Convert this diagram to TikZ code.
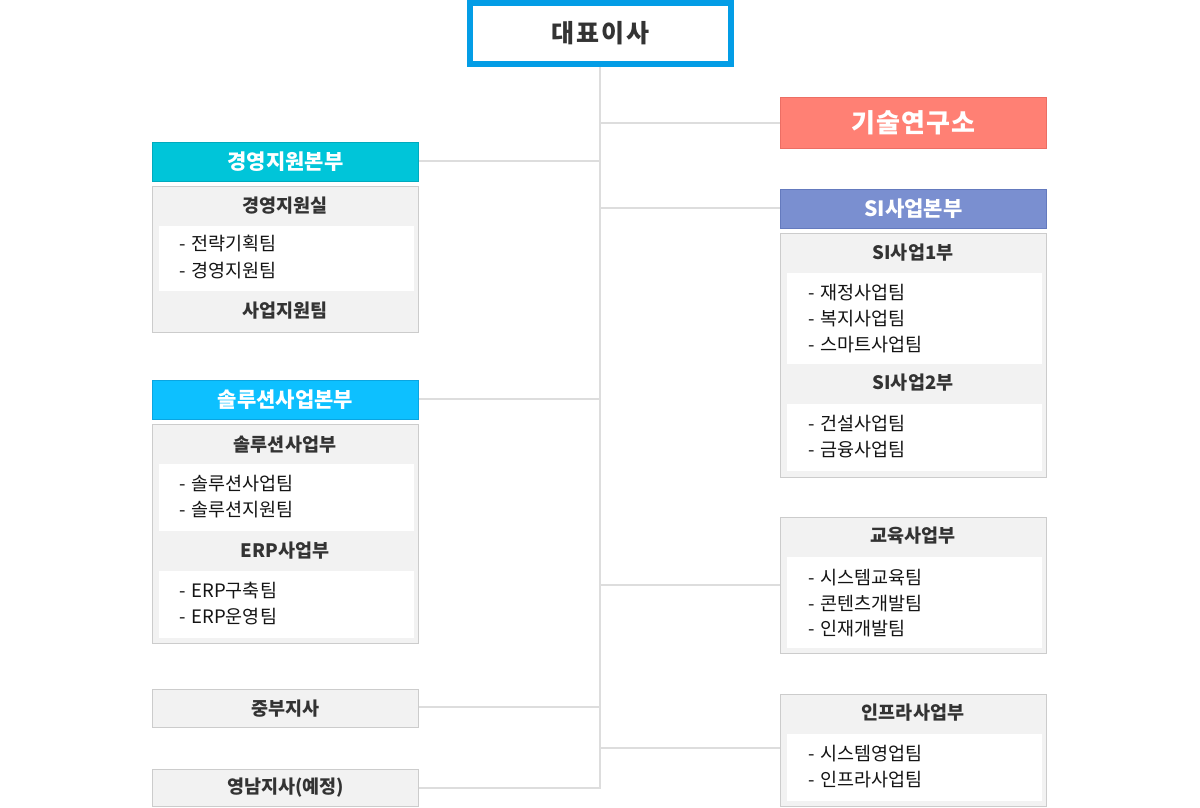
\documentclass[tikz,border=0pt]{standalone}
\usepackage{fontspec}
\setmainfont{Noto Sans CJK KR}
\definecolor{ceoblue}{RGB}{3,157,230}
\definecolor{labfill}{RGB}{255,128,116}
\definecolor{labline}{RGB}{236,110,100}
\definecolor{mgmtfill}{RGB}{0,197,217}
\definecolor{mgmtline}{RGB}{0,170,190}
\definecolor{solfill}{RGB}{13,192,255}
\definecolor{solline}{RGB}{10,165,225}
\definecolor{sifill}{RGB}{122,143,208}
\definecolor{siline}{RGB}{100,122,190}
\definecolor{boxfill}{RGB}{242,242,242}
\definecolor{boxline}{RGB}{204,204,204}
\definecolor{conn}{RGB}{221,221,221}
\definecolor{headtxt}{RGB}{51,51,51}
\definecolor{listtxt}{RGB}{20,20,20}
\newcommand{\itm}[1]{-\hspace{6pt}#1}
\tikzset{
  ceobox/.style={draw=ceoblue, line width=6pt, fill=white, inner sep=0pt,
    minimum width=261pt, minimum height=61pt, text=headtxt,
    font=\fontsize{25}{28}\selectfont\bfseries\addfontfeature{LetterSpace=8}},
  colhead/.style={inner sep=0pt, line width=1pt, anchor=north west, text=white,
    minimum width=266pt, font=\fontsize{21}{24}\selectfont\bfseries},
  graybox/.style={draw=boxline, fill=boxfill, line width=1pt, inner sep=0pt, anchor=north west,
    minimum width=266pt},
  whitebox/.style={fill=white, inner sep=0pt, anchor=north west, minimum width=255pt},
  subhead/.style={inner sep=0pt, text=headtxt, font=\fontsize{18.5}{21}\selectfont\bfseries},
  item/.style={inner sep=0pt, anchor=west, text=listtxt, font=\fontsize{18.5}{21}\selectfont},
  link/.style={draw=conn, line width=2pt}
}
\begin{document}
\begin{tikzpicture}[x=1pt,y=-1pt]
\useasboundingbox (0,0) rectangle (1200,807);
% --- boxes ---
\node[ceobox] (ceo) at (600.5,33.5) {대표이사};
\node[colhead, draw=labline, fill=labfill, minimum height=51pt, font=\fontsize{26}{29}\selectfont\bfseries\addfontfeature{LetterSpace=5}] (lab) at (780,97) {기술연구소};
% left column
\node[colhead, draw=mgmtline, fill=mgmtfill, minimum height=39pt] (h1) at (152,142) {경영지원본부};
\node[graybox, minimum height=146pt] (b1) at (152,186) {};
\node[whitebox, minimum height=65pt] (w1) at (158.5,226) {};
\node[subhead] (t1) at (285,206) {경영지원실};
\node[item] (i11) at (179,244) {\itm{전략기획팀}};
\node[item] (i12) at (179,271) {\itm{경영지원팀}};
\node[subhead] (t2) at (285,311) {사업지원팀};

\node[colhead, draw=solline, fill=solfill, minimum height=39pt] (h2) at (152,380) {솔루션사업본부};
\node[graybox, minimum height=219pt] (b2) at (152,424) {};
\node[whitebox, minimum height=67pt] (w2) at (158.5,464) {};
\node[whitebox, minimum height=67pt] (w3) at (158.5,571) {};
\node[subhead] (t3) at (285,445) {솔루션사업부};
\node[item] (i21) at (179,484) {\itm{솔루션사업팀}};
\node[item] (i22) at (179,510) {\itm{솔루션지원팀}};
\node[subhead] (t4) at (285,551) {ERP사업부};
\node[item] (i31) at (179,591) {\itm{ERP구축팀}};
\node[item] (i32) at (179,617) {\itm{ERP운영팀}};

\node[graybox, minimum height=38pt] (br1) at (152,689) {};
\node[subhead] (br1t) at (br1.center) {중부지사};
\node[graybox, minimum height=37pt] (br2) at (152,769) {};
\node[subhead] (br2t) at (br2.center) {영남지사(예정)};
% right column
\node[colhead, draw=siline, fill=sifill, minimum height=39pt] (h3) at (780,189) {SI사업본부};
\node[graybox, minimum height=244pt] (b3) at (780,233) {};
\node[whitebox, minimum height=91pt] (w4) at (786.5,273) {};
\node[whitebox, minimum height=67pt] (w5) at (786.5,404) {};
\node[subhead] (t5) at (913,253) {SI사업1부};
\node[item] (i41) at (808,293) {\itm{재정사업팀}};
\node[item] (i42) at (808,319) {\itm{복지사업팀}};
\node[item] (i43) at (808,345) {\itm{스마트사업팀}};
\node[subhead] (t6) at (913,383) {SI사업2부};
\node[item] (i51) at (808,424) {\itm{건설사업팀}};
\node[item] (i52) at (808,450) {\itm{금융사업팀}};

\node[graybox, minimum height=136pt] (b4) at (780,517) {};
\node[whitebox, minimum height=91pt] (w6) at (786.5,557) {};
\node[subhead] (t7) at (913,536) {교육사업부};
\node[item] (i61) at (808,578) {\itm{시스템교육팀}};
\node[item] (i62) at (808,604) {\itm{콘텐츠개발팀}};
\node[item] (i63) at (808,629) {\itm{인재개발팀}};

\node[graybox, minimum height=112pt] (b5) at (780,694) {};
\node[whitebox, minimum height=67pt] (w7) at (786.5,734) {};
\node[subhead] (t8) at (913,713) {인프라사업부};
\node[item] (i71) at (808,754) {\itm{시스템영업팀}};
\node[item] (i72) at (808,780) {\itm{인프라사업팀}};
% --- connectors ---
\coordinate (tx) at (600,0);
\coordinate (c1) at (600,161);
\coordinate (c2) at (600,399);
\coordinate (c3) at (600,707);
\coordinate (r1) at (600,123);
\coordinate (r2) at (600,208);
\coordinate (r3) at (600,585);
\coordinate (r4) at (600,748);
\draw[link] (ceo.south -| tx) |- (br2.east);
\draw[link] (c1) -- (c1 -| h1.east);
\draw[link] (c2) -- (c2 -| h2.east);
\draw[link] (c3) -- (c3 -| br1.east);
\draw[link] (r1) -- (r1 -| lab.west);
\draw[link] (r2) -- (r2 -| h3.west);
\draw[link] (r3) -- (r3 -| b4.west);
\draw[link] (r4) -- (r4 -| b5.west);
\end{tikzpicture}
\end{document}
